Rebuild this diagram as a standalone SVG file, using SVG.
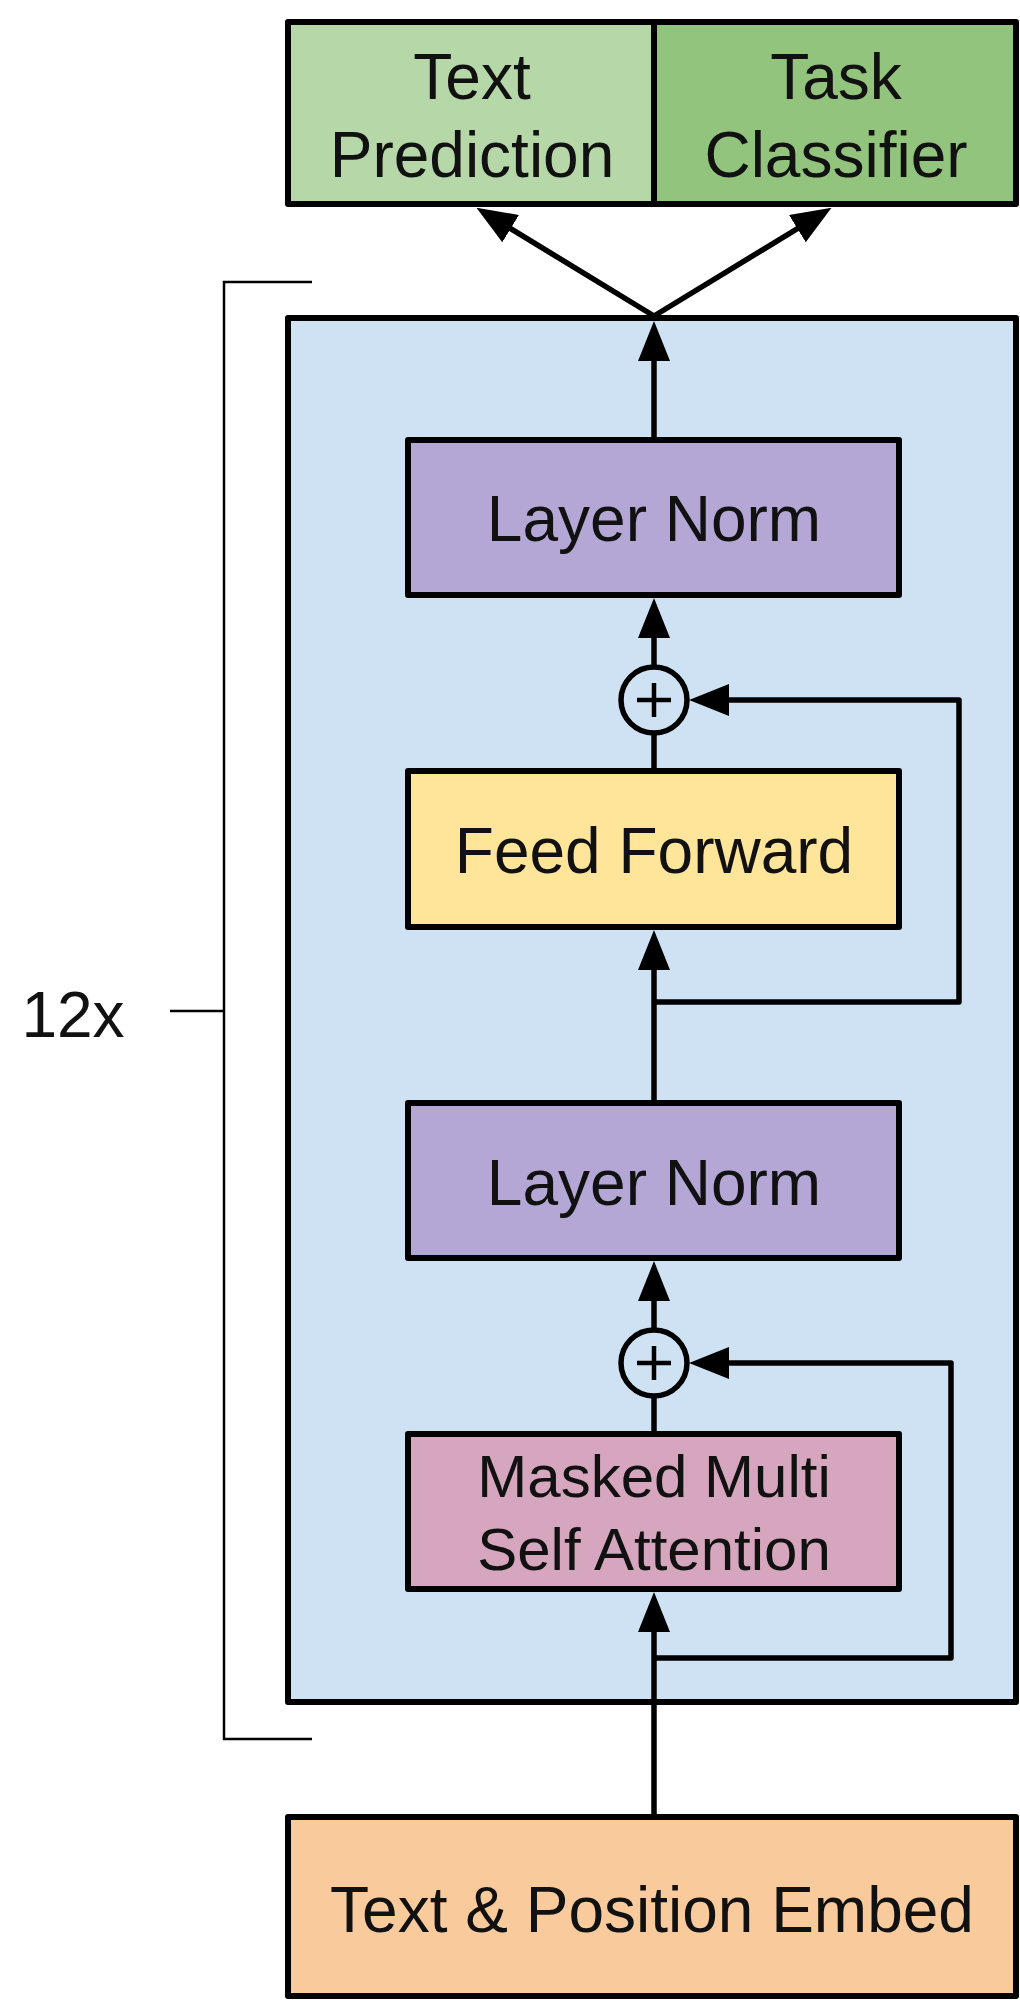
<svg xmlns="http://www.w3.org/2000/svg" width="1020" height="2000" viewBox="0 0 1020 2000">
<defs>
<style>
.box{stroke:#000;stroke-width:6;stroke-linejoin:round}
.t{font-family:"Liberation Sans",Arial,sans-serif;font-size:64px;fill:#111;text-anchor:middle}
.c{fill:none;stroke:#000;stroke-width:5.5;stroke-linejoin:round}
.br{fill:none;stroke:#000;stroke-width:2.5}
.add{fill:#cfe2f3;stroke:#000;stroke-width:5.5}
.plus{stroke:#000;stroke-width:4.5}
</style>
<marker id="ah" viewBox="0 0 40 32" markerWidth="40" markerHeight="32" refX="30" refY="16" orient="auto" markerUnits="userSpaceOnUse"><path d="M0,0 L40,16 L0,32 z" fill="#000"/></marker>
</defs>
<rect width="1020" height="2000" fill="#fff"/>

<g id="bracket">
<path class="br" d="M312,282 H224 V1739 H312 M170,1011 H224"/>
<text class="t" x="73" y="1037">12x</text>
</g>

<g id="block">
<rect class="box" x="288" y="318" width="728" height="1384" fill="#cfe2f3"/>
</g>

<g id="text-prediction">
<rect class="box" x="288" y="22" width="366" height="182" fill="#b6d7a8"/>
<text class="t" x="472" y="99">Text</text>
<text class="t" x="472" y="177">Prediction</text>
</g>
<g id="task-classifier">
<rect class="box" x="654" y="22" width="362" height="182" fill="#93c47d"/>
<text class="t" x="836" y="99">Task</text>
<text class="t" x="836" y="177">Classifier</text>
</g>

<g id="layer-norm-2">
<rect class="box" x="408" y="440" width="491" height="155" fill="#b4a7d6"/>
<text class="t" x="654" y="541">Layer Norm</text>
</g>
<g id="add-2">
<circle class="add" cx="654" cy="700" r="33"/>
<path class="plus" d="M637,700 H671 M654,683 V717"/>
</g>
<g id="feed-forward">
<rect class="box" x="408" y="771" width="491" height="156" fill="#ffe599"/>
<text class="t" x="654" y="873">Feed Forward</text>
</g>
<g id="layer-norm-1">
<rect class="box" x="408" y="1103" width="491" height="155" fill="#b4a7d6"/>
<text class="t" x="654" y="1205">Layer Norm</text>
</g>
<g id="add-1">
<circle class="add" cx="654" cy="1363" r="33"/>
<path class="plus" d="M637,1363 H671 M654,1346 V1380"/>
</g>
<g id="masked-attention">
<rect class="box" x="408" y="1434" width="491" height="155" fill="#d5a6bd"/>
<text class="t" x="654" y="1497" style="font-size:60px">Masked Multi</text>
<text class="t" x="654" y="1570" style="font-size:60px">Self Attention</text>
</g>
<g id="embed">
<rect class="box" x="288" y="1817" width="728" height="179" fill="#f9cb9c"/>
<text class="t" x="652" y="1932">Text &amp; Position Embed</text>
</g>

<g id="connectors">
<path class="c" d="M654,1817 V1602" marker-end="url(#ah)"/>
<path class="c" d="M654,1658 H951 V1363 H699" marker-end="url(#ah)"/>
<path class="c" d="M654,1434 V1396"/>
<path class="c" d="M654,1330 V1271" marker-end="url(#ah)"/>
<path class="c" d="M654,1103 V940" marker-end="url(#ah)"/>
<path class="c" d="M654,1002 H959 V700 H699" marker-end="url(#ah)"/>
<path class="c" d="M654,771 V733"/>
<path class="c" d="M654,667 V608" marker-end="url(#ah)"/>
<path class="c" d="M654,440 V331" marker-end="url(#ah)"/>
<path class="c" d="M654,316 L485,213" marker-end="url(#ah)"/>
<path class="c" d="M654,316 L823,213" marker-end="url(#ah)"/>
</g>
</svg>
